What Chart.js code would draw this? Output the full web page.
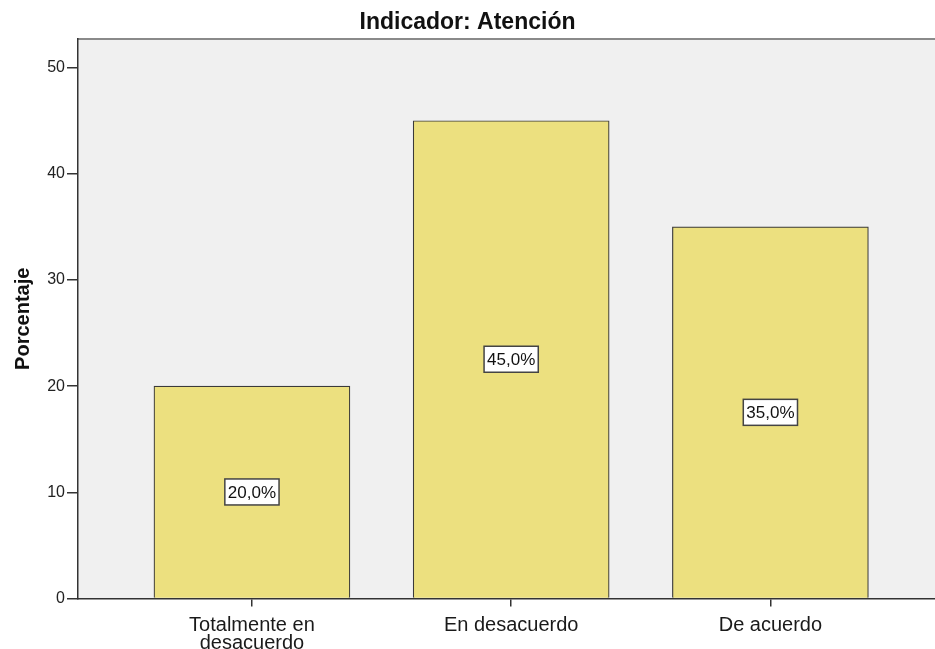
<!DOCTYPE html>
<html>
<head>
<meta charset="utf-8">
<script src="https://cdn.jsdelivr.net/npm/chart.js@4/dist/chart.umd.min.js"></script>
<style>
  html, body { margin: 0; padding: 0; background: #ffffff; }
  #wrap { width: 935px; height: 649px; position: relative; }
</style>
</head>
<body>
<div id="wrap"><canvas id="c" width="935" height="649"></canvas></div>
<script>
// ---- data ----
const chartTitle = "Indicador: Atención";
const yAxisTitle = "Porcentaje";
const categories = [["Totalmente en", "desacuerdo"], "En desacuerdo", "De acuerdo"];
const categoryPositions = [0, 1, 2];
const percentages = [20.0, 45.0, 35.0];
const yTicks = [0, 10, 20, 30, 40, 50];

const FONT = "'Liberation Sans', Arial, Helvetica, sans-serif";

const plotBackground = {
  id: 'plotBackground',
  beforeDraw(chart) {
    const { ctx, chartArea: a } = chart;
    ctx.save();
    ctx.fillStyle = '#f0f0f0';
    ctx.fillRect(a.left, a.top, a.right - a.left, a.bottom - a.top);
    ctx.strokeStyle = '#8a8a8a';
    ctx.lineWidth = 2;
    ctx.beginPath();
    ctx.moveTo(a.left, a.top);
    ctx.lineTo(a.right, a.top);
    ctx.stroke();
    ctx.restore();
  }
};

const valueBoxes = {
  id: 'valueBoxes',
  afterDatasetsDraw(chart) {
    const { ctx } = chart;
    const meta = chart.getDatasetMeta(0);
    ctx.save();
    ctx.font = '17px ' + FONT;
    ctx.textAlign = 'center';
    ctx.textBaseline = 'middle';
    meta.data.forEach((bar, i) => {
      const v = chart.data.datasets[0].data[i].y;
      const txt = v.toFixed(1).replace('.', ',') + '%';
      const cx = bar.x;
      const cy = (bar.y + bar.base) / 2;
      const w = ctx.measureText(txt).width + 6;
      const h = 26;
      ctx.fillStyle = '#ffffff';
      ctx.fillRect(cx - w / 2, cy - h / 2, w, h);
      ctx.strokeStyle = '#444444';
      ctx.lineWidth = 1.5;
      ctx.strokeRect(cx - w / 2, cy - h / 2, w, h);
      ctx.fillStyle = '#111111';
      ctx.fillText(txt, cx, cy + 1);
    });
    ctx.restore();
  }
};

new Chart(document.getElementById('c'), {
  type: 'bar',
  data: {
    datasets: [{
      data: categoryPositions.map((x, i) => ({ x: x, y: percentages[i] })),
      backgroundColor: '#ece07f',
      borderColor: '#3a3a3a',
      borderWidth: 1.2,
      barThickness: 196
    }]
  },
  options: {
    responsive: false,
    animation: false,
    layout: { padding: { left: 0, right: 0, top: 0, bottom: 0 } },
    plugins: {
      legend: { display: false },
      tooltip: { enabled: false },
      title: {
        display: true,
        text: chartTitle,
        color: '#111111',
        font: { family: FONT, size: 23, weight: 'bold', lineHeight: 1.2 },
        padding: { top: 8.5, bottom: 2.9 }
      }
    },
    scales: {
      x: {
        type: 'linear',
        offset: false,
        min: -0.671,
        max: 2.635,
        afterBuildTicks(scale) { scale.ticks = categoryPositions.map(v => ({ value: v })); },
        afterFit(scale) { scale.height = 50.5; },
        ticks: {
          autoSkip: false,
          maxRotation: 0,
          padding: 10,
          color: '#1a1a1a',
          font: { family: FONT, size: 20, lineHeight: 0.9 },
          callback: (v) => categories[categoryPositions.indexOf(v)]
        },
        grid: { display: true, offset: false, drawOnChartArea: false, drawTicks: true, tickLength: 8, color: '#333333', lineWidth: 1.5 },
        border: { display: true, color: '#333333', width: 1.5 }
      },
      y: {
        min: 0,
        max: 52.7,
        afterBuildTicks(scale) { scale.ticks = yTicks.map(v => ({ value: v })); },
        afterFit(scale) { scale.width = 78; },
        ticks: {
          padding: 2,
          color: '#222222',
          font: { family: FONT, size: 16 }
        },
        grid: { display: true, drawOnChartArea: false, drawTicks: true, tickLength: 11, color: '#333333', lineWidth: 1.5 },
        border: { display: true, color: '#333333', width: 1.5 },
        title: {
          display: true,
          text: yAxisTitle,
          color: '#111111',
          font: { family: FONT, size: 20, weight: 'bold', lineHeight: 1.2 },
          padding: { top: 11, bottom: 0 }
        }
      }
    }
  },
  plugins: [plotBackground, valueBoxes]
});
</script>
</body>
</html>
